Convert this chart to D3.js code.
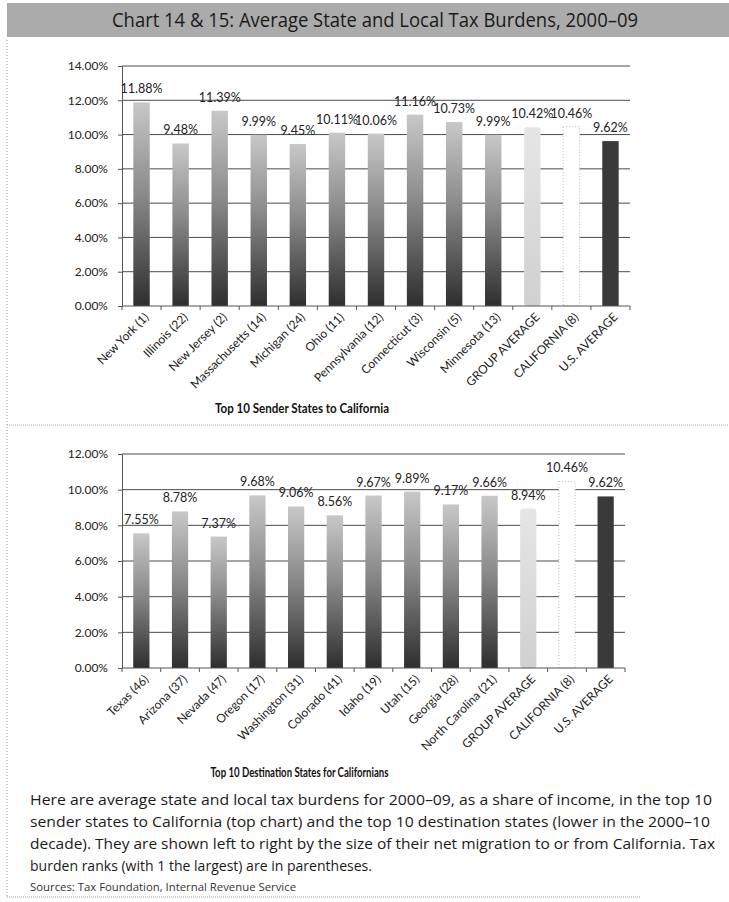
<!DOCTYPE html>
<html>
<head>
<meta charset="utf-8">
<script src="https://cdn.jsdelivr.net/npm/d3@7"></script>
<style>
  html, body { margin: 0; padding: 0; background: #fff; }
  svg { display: block; }
</style>
</head>
<body>
<svg id="chart" width="729" height="902"></svg>
<script>
// Sender states to California (tax-burden rank in parentheses)
const senderStates = ["New York (1)", "Illinois (22)", "New Jersey (2)", "Massachusetts (14)", "Michigan (24)",
  "Ohio (11)", "Pennsylvania (12)", "Connecticut (3)", "Wisconsin (5)", "Minnesota (13)",
  "GROUP AVERAGE", "CALIFORNIA (8)", "U.S. AVERAGE"];
const senderBurden = [0.1188, 0.0948, 0.1139, 0.0999, 0.0945, 0.1011, 0.1006, 0.1116, 0.1073, 0.0999, 0.1042, 0.1046, 0.0962];

// Destination states for Californians
const destStates = ["Texas (46)", "Arizona (37)", "Nevada (47)", "Oregon (17)", "Washington (31)", "Colorado (41)",
  "Idaho (19)", "Utah (15)", "Georgia (28)", "North Carolina (21)",
  "GROUP AVERAGE", "CALIFORNIA (8)", "U.S. AVERAGE"];
const destBurden = [0.0755, 0.0878, 0.0737, 0.0968, 0.0906, 0.0856, 0.0967, 0.0989, 0.0917, 0.0966, 0.0894, 0.1046, 0.0962];

const senderTicks = [0, 0.02, 0.04, 0.06, 0.08, 0.10, 0.12, 0.14];
const destTicks = [0, 0.02, 0.04, 0.06, 0.08, 0.10, 0.12];

const titleText = "Chart 14 & 15: Average State and Local Tax Burdens, 2000–09";
const noteLines = [
  "Here are average state and local tax burdens for 2000–09, as a share of income, in the top 10",
  "sender states to California (top chart) and the top 10 destination states (lower in the 2000–10",
  "decade). They are shown left to right by the size of their net migration to or from California. Tax",
  "burden ranks (with 1 the largest) are in parentheses."
];
const sourceText = "Sources: Tax Foundation, Internal Revenue Service";

const svg = d3.select("#chart");
const defs = svg.append("defs");

const grad = defs.append("linearGradient").attr("id", "barGrad")
  .attr("x1", 0).attr("y1", 0).attr("x2", 0).attr("y2", 1);
grad.append("stop").attr("offset", "0%").attr("stop-color", "#c8c8c8");
grad.append("stop").attr("offset", "45%").attr("stop-color", "#8a8a8a");
grad.append("stop").attr("offset", "100%").attr("stop-color", "#2e2e2e");

const lightGrad = defs.append("linearGradient").attr("id", "avgGrad")
  .attr("x1", 0).attr("y1", 0).attr("x2", 0).attr("y2", 1);
lightGrad.append("stop").attr("offset", "0%").attr("stop-color", "#e6e6e6");
lightGrad.append("stop").attr("offset", "100%").attr("stop-color", "#d0d0d0");

// Title banner
svg.append("rect").attr("x", 7).attr("y", 3).attr("width", 722).attr("height", 34).attr("fill", "#ababab");
svg.append("text")
  .attr("x", 375).attr("y", 27)
  .attr("text-anchor", "middle")
  .attr("font-family", "'Open Sans', 'Noto Sans', sans-serif")
  .attr("font-size", 20)
  .attr("fill", "#1a1a1a")
  .attr("textLength", 526).attr("lengthAdjust", "spacingAndGlyphs")
  .text(titleText);

// Page frame lines
svg.append("line").attr("x1", 7).attr("x2", 7).attr("y1", 40).attr("y2", 897)
  .attr("stroke", "#999").attr("stroke-dasharray", "1,2");
svg.append("line").attr("x1", 7).attr("x2", 640).attr("y1", 897).attr("y2", 897)
  .attr("stroke", "#999").attr("stroke-dasharray", "1,1");
svg.append("line").attr("x1", 7).attr("x2", 729).attr("y1", 425).attr("y2", 425)
  .attr("stroke", "#aaa").attr("stroke-dasharray", "1,1");

function drawChart(opts) {
  const { cats, vals, ticks, yMax, left, right, top, bottom, heading, headingY, headingLen } = opts;
  const g = svg.append("g");

  const x = d3.scaleBand().domain(cats).range([left, right]).paddingInner(0.58).paddingOuter(0.29);
  const y = d3.scaleLinear().domain([0, yMax]).range([bottom, top]);

  // gridlines
  g.append("g").selectAll("line").data(ticks.filter(t => t > 0)).join("line")
    .attr("x1", left).attr("x2", right)
    .attr("y1", d => y(d)).attr("y2", d => y(d))
    .attr("stroke", "#4a4a4a").attr("stroke-width", 1);

  // y axis
  const yAxis = d3.axisLeft(y).tickValues(ticks).tickFormat(d3.format(".2%")).tickSize(4).tickPadding(10);
  const ya = g.append("g").attr("transform", `translate(${left},0)`).call(yAxis);
  ya.select(".domain").attr("stroke", "#555");
  ya.selectAll(".tick line").attr("stroke", "#555");
  ya.selectAll("text").attr("font-family", "Lato, 'Open Sans', sans-serif").attr("font-size", 12).attr("fill", "#222");

  // bars
  const n = cats.length;
  g.append("g").selectAll("rect").data(cats).join("rect")
    .attr("x", d => x(d))
    .attr("width", x.bandwidth())
    .attr("y", (d, i) => y(vals[i]))
    .attr("height", (d, i) => bottom - y(vals[i]))
    .attr("rx", (d, i) => i === n - 3 ? 3 : 0)
    .attr("fill", (d, i) => i === n - 3 ? "url(#avgGrad)" : i === n - 2 ? "#ffffff" : i === n - 1 ? "#3a3a3a" : "url(#barGrad)")
    .attr("stroke", (d, i) => i === n - 2 ? "#bbb" : "none")
    .attr("stroke-dasharray", (d, i) => i === n - 2 ? "1,2" : null);

  // x axis line and band-boundary ticks
  g.append("line").attr("x1", left).attr("x2", right).attr("y1", bottom).attr("y2", bottom)
    .attr("stroke", "#555");
  g.append("g").selectAll("line").data(d3.range(n + 1)).join("line")
    .attr("x1", i => left + i * x.step()).attr("x2", i => left + i * x.step())
    .attr("y1", bottom).attr("y2", bottom + 4)
    .attr("stroke", "#555");

  // value labels
  g.append("g").selectAll("text").data(cats).join("text")
    .attr("x", d => x(d) + x.bandwidth() / 2)
    .attr("y", (d, i) => y(vals[i]) - 9)
    .attr("text-anchor", "middle")
    .attr("font-family", "Lato, 'Open Sans', sans-serif")
    .attr("font-size", 12.5)
    .attr("fill", "#222")
    .text((d, i) => d3.format(".2%")(vals[i]));

  // category labels
  g.append("g").selectAll("text").data(cats).join("text")
    .attr("transform", d => `translate(${x(d) + x.bandwidth() / 2 + 5},${bottom + 9}) rotate(-45)`)
    .attr("text-anchor", "end")
    .attr("dy", "0.35em")
    .attr("font-family", "Lato, 'Open Sans', sans-serif")
    .attr("font-size", 12)
    .attr("fill", "#222")
    .text(d => d);

  // chart heading
  g.append("text")
    .attr("x", (left + right) / 2 - 74).attr("y", headingY)
    .attr("text-anchor", "middle")
    .attr("font-family", "Lato, 'Open Sans', sans-serif")
    .attr("font-weight", "bold")
    .attr("font-size", 13.5)
    .attr("fill", "#111")
    .attr("textLength", headingLen).attr("lengthAdjust", "spacingAndGlyphs")
    .text(heading);
}

drawChart({ cats: senderStates, vals: senderBurden, ticks: senderTicks, yMax: 0.14,
  left: 122, right: 630, top: 66, bottom: 306,
  heading: "Top 10 Sender States to California", headingY: 413, headingLen: 174 });

drawChart({ cats: destStates, vals: destBurden, ticks: destTicks, yMax: 0.12,
  left: 122, right: 625, top: 454, bottom: 668,
  heading: "Top 10 Destination States for Californians", headingY: 777, headingLen: 178 });

// Explanatory note
const note = svg.append("g")
  .attr("font-family", "'Open Sans', 'Noto Sans', sans-serif")
  .attr("font-size", 15)
  .attr("fill", "#1a1a1a");
const noteLens = [682, 680, 685, 342];
note.selectAll("text").data(noteLines).join("text")
  .attr("x", 30)
  .attr("y", (d, i) => 805 + i * 22)
  .attr("textLength", (d, i) => noteLens[i])
  .attr("lengthAdjust", "spacingAndGlyphs")
  .text(d => d);

svg.append("text")
  .attr("x", 30).attr("y", 891)
  .attr("font-family", "'Open Sans', 'Noto Sans', sans-serif")
  .attr("font-size", 10)
  .attr("fill", "#333")
  .attr("textLength", 266).attr("lengthAdjust", "spacingAndGlyphs")
  .text(sourceText);
</script>
</body>
</html>
